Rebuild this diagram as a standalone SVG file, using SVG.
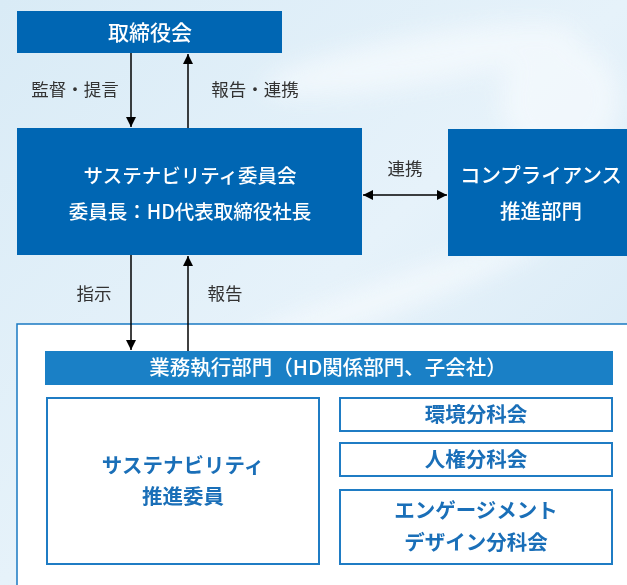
<svg xmlns="http://www.w3.org/2000/svg" width="627" height="585" viewBox="0 0 627 585">
<defs>
<linearGradient id="bg" x1="0" y1="0" x2="1" y2="1">
<stop offset="0" stop-color="#d9ebf6"/>
<stop offset="0.5" stop-color="#e6f2fa"/>
<stop offset="1" stop-color="#d3e7f4"/>
</linearGradient>
<filter id="blur" x="-50%" y="-50%" width="200%" height="200%"><feGaussianBlur stdDeviation="12"/></filter>
<marker id="ah" viewBox="0 0 10 10" refX="10" refY="5" markerWidth="11" markerHeight="10" markerUnits="userSpaceOnUse" orient="auto-start-reverse">
<path d="M0,0 L10,5 L0,10 z" fill="#000"/>
</marker>
<style>
.dark{fill:#0066b3}
.bar{fill:#1a80c6}
.wt{fill:#fff;font-family:"Noto Sans CJK JP","Noto Sans",sans-serif;text-anchor:middle;font-weight:500}
.lb{fill:#333;font-family:"Noto Sans CJK JP","Noto Sans",sans-serif;text-anchor:middle;font-size:17.5px}
.sub{fill:#fff;stroke:#1f7cc4;stroke-width:2}
.bt{fill:#1a6fb8;font-family:"Noto Sans CJK JP","Noto Sans",sans-serif;text-anchor:middle;font-size:20.5px;font-weight:700}
.ln{stroke:#000;stroke-width:1.5;fill:none}
</style>
</defs>
<rect width="627" height="585" fill="url(#bg)"/>
<g filter="url(#blur)" fill="#f4f9fd" opacity="0.8">
<ellipse cx="420" cy="60" rx="160" ry="25" transform="rotate(-10 420 60)"/>
<ellipse cx="380" cy="300" rx="180" ry="18" transform="rotate(-20 380 300)"/>
<ellipse cx="560" cy="100" rx="60" ry="60"/>
</g>

<g id="board">
<rect class="dark" x="17" y="11" width="265" height="42"/>
<text class="wt" x="150" y="40" font-size="21">取締役会</text>
</g>

<g id="committee">
<rect class="dark" x="17" y="128" width="345" height="127"/>
<text class="wt" x="190" y="183" font-size="19.5">サステナビリティ委員会</text>
<text class="wt" x="190" y="219" font-size="19.5">委員長：HD代表取締役社長</text>
</g>

<g id="compliance">
<rect class="dark" x="448" y="129" width="190" height="127"/>
<text class="wt" x="541" y="183" font-size="20.5">コンプライアンス</text>
<text class="wt" x="541" y="219" font-size="20.5">推進部門</text>
</g>

<g id="execution">
<rect x="17" y="324" width="620" height="270" fill="#fff" stroke="#1a7ac2" stroke-width="1.5"/>
<rect class="bar" x="45" y="351" width="568" height="34"/>
<text class="wt" x="328" y="375" font-size="20.5">業務執行部門（HD関係部門、子会社）</text>
</g>

<g id="promoters">
<rect class="sub" x="47" y="398" width="272" height="166"/>
<text class="bt" x="183" y="473">サステナビリティ</text>
<text class="bt" x="183" y="504">推進委員</text>
</g>

<g id="env">
<rect class="sub" x="340" y="398" width="272" height="33"/>
<text class="bt" x="476" y="422">環境分科会</text>
</g>

<g id="hr">
<rect class="sub" x="340" y="443" width="272" height="33"/>
<text class="bt" x="476" y="467">人権分科会</text>
</g>

<g id="engagement">
<rect class="sub" x="340" y="490" width="272" height="74"/>
<text class="bt" x="476" y="518">エンゲージメント</text>
<text class="bt" x="476" y="550">デザイン分科会</text>
</g>

<g id="connectors">
<line class="ln" x1="131" y1="53" x2="131" y2="127" marker-end="url(#ah)"/>
<line class="ln" x1="188" y1="128" x2="188" y2="54" marker-end="url(#ah)"/>
<text class="lb" x="75" y="96">監督・提言</text>
<text class="lb" x="255" y="96">報告・連携</text>
<line class="ln" x1="363" y1="195" x2="447" y2="195" marker-start="url(#ah)" marker-end="url(#ah)"/>
<text class="lb" x="405" y="175">連携</text>
<line class="ln" x1="131" y1="255" x2="131" y2="350" marker-end="url(#ah)"/>
<line class="ln" x1="188" y1="351" x2="188" y2="256" marker-end="url(#ah)"/>
<text class="lb" x="94" y="300">指示</text>
<text class="lb" x="225" y="300">報告</text>
</g>
</svg>
